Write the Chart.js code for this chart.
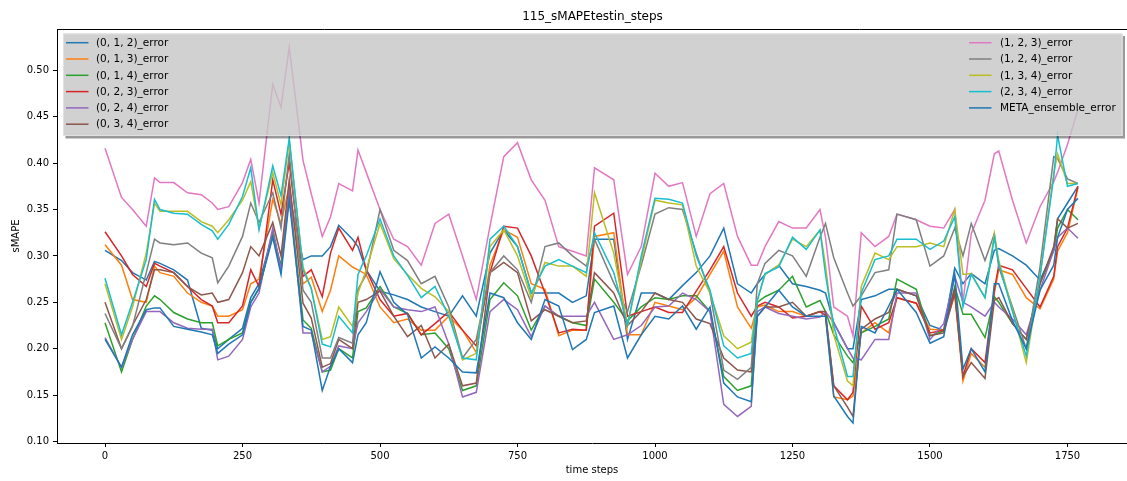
<!DOCTYPE html>
<html><head><meta charset="utf-8">
<script src="https://cdn.jsdelivr.net/npm/chart.js@4/dist/chart.umd.min.js"></script>
<style>html,body{margin:0;padding:0;background:#fff;overflow:hidden}</style>
</head><body>
<canvas id="c" width="1127" height="481" style="width:1127px;height:481px;display:block"></canvas>
<script>
const chartTitle = "115_sMAPEtestin_steps";
const xLabel = "time steps";
const yLabel = "sMAPE";
const xTicks = [0,250,500,750,1000,1250,1500,1750];
const yTicks = [0.10,0.15,0.20,0.25,0.30,0.35,0.40,0.45,0.50];
const seriesNames = ["(0, 1, 2)_error","(0, 1, 3)_error","(0, 1, 4)_error","(0, 2, 3)_error","(0, 2, 4)_error","(0, 3, 4)_error","(1, 2, 3)_error","(1, 2, 4)_error","(1, 3, 4)_error","(2, 3, 4)_error","META_ensemble_error"];
const seriesColors = ["#1f77b4","#ff7f0e","#2ca02c","#d62728","#9467bd","#8c564b","#e377c2","#7f7f7f","#bcbd22","#17becf","#1f77b4"];

const steps = [0,30,50,75,90,100,125,150,175,195,205,225,250,265,280,305,320,335,360,375,395,410,425,450,460,475,500,525,550,575,600,625,650,675,700,725,750,775,800,825,850,875,890,925,950,975,1000,1025,1050,1075,1100,1125,1150,1175,1186,1200,1225,1250,1275,1300,1310,1325,1350,1360,1375,1400,1425,1440,1475,1500,1525,1545,1560,1575,1600,1617,1625,1650,1675,1700,1725,1732,1750,1769];

const err_012 = [.306,.295,.282,.274,.294,.292,.285,.274,.222,.22, .20,.21,.222,.255,.27,.325,.285,.365,.296,.30, .30,.31,.333,.318,.31,.285,.262,.258,.253,.245, .24,.235,.257,.235,.303,.328,.31,.26,.26,.26, .25,.257,.318,.318,.21,.26,.26,.253,.268,.282, .30,.33,.27,.26,.27,.28,.29,.27,.267,.263, .26,.228,.20,.20,.253,.257,.264,.264,.257,.225, .22,.287,.27,.281,.27,.306,.308,.30,.29,.274, .306,.34,.357,.375];
const err_013 = [.312,.29,.253,.25,.289,.282,.278,.26,.25,.246, .235,.235,.242,.27,.275,.361,.335,.375,.27,.277, .24,.263,.30,.288,.285,.28,.245,.228,.232,.22, .22,.235,.22,.196,.29,.328,.32,.27,.264,.214, .22,.22,.321,.325,.215,.215,.25,.246,.242,.255, .28,.305,.245,.222,.245,.247,.24,.24,.235,.24, .236,.148,.145,.149,.217,.228,.217,.255,.249,.221, .22,.258,.165,.195,.18,.26,.285,.28,.255,.243, .275,.305,.325,.373];
const err_014 = [.228,.175,.21,.246,.257,.253,.239,.232,.228,.228, .203,.21,.217,.25,.265,.323,.29,.365,.231,.222, .175,.177,.20,.19,.24,.244,.267,.245,.238,.215, .217,.20,.155,.16,.253,.271,.257,.22,.246,.235, .228,.225,.275,.25,.23,.245,.255,.253,.257,.257, .24,.17,.155,.16,.25,.256,.263,.278,.245,.252, .24,.215,.192,.185,.217,.224,.232,.275,.264,.214, .219,.267,.237,.237,.212,.256,.25,.227,.21,.27, .306,.33,.35,.339];
const err_023 = [.326,.30,.28,.267,.292,.289,.282,.267,.253,.246, .228,.228,.246,.285,.267,.382,.345,.40,.278,.285, .256,.303,.33,.306,.32,.285,.253,.235,.238,.215, .227,.24,.22,.203,.282,.332,.33,.30,.26,.217, .221,.22,.332,.346,.235,.24,.245,.239,.239,.262, .285,.31,.26,.235,.246,.25,.245,.233,.235,.24, .236,.16,.145,.153,.246,.221,.228,.255,.249,.217, .22,.263,.17,.20,.185,.263,.29,.285,.265,.245, .278,.31,.33,.375];
const err_024 = [.212,.18,.21,.24,.24,.24,.228,.222,.221,.221, .188,.192,.21,.245,.26,.33,.285,.37,.217,.217, .175,.181,.203,.20,.228,.24,.264,.245,.242,.24, .245,.205,.148,.153,.24,.253,.242,.213,.246,.235, .235,.235,.25,.21,.215,.225,.245,.246,.26,.253, .24,.14,.127,.138,.24,.245,.238,.235,.232,.234, .24,.228,.20,.19,.188,.21,.21,.26,.26,.21, .227,.278,.25,.245,.235,.25,.245,.232,.215,.263, .306,.32,.33,.319];
const err_034 = [.250,.20,.225,.253,.285,.285,.282,.267,.258,.26, .25,.253,.282,.31,.30,.336,.30,.382,.249,.233, .18,.184,.21,.20,.25,.253,.262,.235,.213,.225, .19,.205,.16,.163,.282,.293,.282,.23,.242,.235, .228,.23,.282,.26,.225,.24,.26,.253,.25,.232, .227,.19,.177,.175,.235,.245,.245,.25,.235,.24, .24,.16,.137,.127,.221,.232,.239,.264,.257,.214, .217,.26,.17,.185,.168,.252,.255,.227,.21,.27, .31,.34,.33,.335];
const err_123 = [.416,.363,.35,.332,.384,.379,.379,.368,.366,.357, .35,.353,.379,.404,.357,.485,.46,.525,.403,.367, .321,.342,.378,.37,.414,.39,.35,.318,.31,.29, .335,.345,.30,.253,.332,.407,.422,.382,.36,.31, .305,.30,.395,.382,.28,.31,.389,.375,.379,.321, .367,.378,.321,.29,.29,.31,.337,.33,.33,.35, .32,.245,.235,.214,.325,.31,.321,.345,.339,.332, .33,.35,.25,.324,.36,.41,.413,.36,.314,.353, .38,.39,.42,.458];
const err_124 = [.238,.20,.224,.282,.318,.314,.312,.314,.303,.298, .271,.289,.321,.357,.336,.368,.33,.41,.263,.25, .19,.19,.212,.206,.264,.28,.35,.306,.295,.27, .278,.245,.19,.21,.282,.30,.285,.25,.31,.314, .30,.289,.318,.271,.24,.29,.345,.352,.35,.303, .26,.177,.167,.18,.27,.292,.306,.30,.278,.32, .335,.298,.26,.246,.257,.282,.285,.345,.339,.289, .30,.33,.30,.335,.295,.324,.288,.245,.20,.288, .407,.405,.383,.378];
const err_134 = [.270,.21,.245,.303,.357,.348,.348,.348,.337,.332, .325,.339,.36,.38,.33,.39,.355,.424,.288,.265, .21,.213,.245,.224,.26,.285,.335,.297,.28,.265, .256,.24,.188,.195,.31,.328,.30,.255,.293,.289, .289,.278,.368,.303,.225,.295,.36,.357,.355,.289, .26,.214,.20,.207,.252,.28,.29,.318,.31,.328, .29,.215,.165,.16,.267,.303,.296,.31,.31,.314, .31,.35,.28,.281,.255,.324,.295,.242,.185,.278, .389,.41,.378,.378];
const err_234 = [.276,.215,.25,.296,.361,.35,.346,.345,.334,.327, .318,.334,.364,.395,.328,.397,.365,.427,.285,.265, .205,.202,.235,.217,.28,.30,.34,.30,.279,.255, .267,.235,.19,.188,.318,.332,.31,.26,.289,.296, .289,.282,.325,.282,.225,.30,.362,.361,.357,.30, .263,.203,.19,.195,.252,.281,.288,.32,.307,.328, .28,.225,.17,.17,.26,.296,.30,.318,.318,.307, .316,.342,.245,.28,.255,.32,.292,.24,.192,.278, .385,.43,.375,.378];
const err_meta = [.210,.18,.215,.242,.244,.244,.224,.221,.218,.215, .195,.205,.215,.25,.265,.32,.28,.36,.224,.22, .155,.181,.20,.185,.215,.228,.283,.25,.237,.19, .202,.19,.175,.174,.26,.255,.228,.21,.253,.246, .199,.21,.239,.246,.19,.215,.235,.232,.246,.221, .245,.163,.148,.143,.235,.245,.263,.245,.235,.235, .235,.149,.127,.12,.224,.217,.246,.264,.239,.206, .213,.28,.178,.20,.175,.27,.27,.23,.20,.263, .29,.32,.35,.362];

const seriesValues = [err_012,err_013,err_014,err_023,err_024,err_034,err_123,err_124,err_134,err_234,err_meta];

const FONT = "'DejaVu Sans', sans-serif";
Chart.defaults.font.family = FONT;
Chart.defaults.font.size = 10;
Chart.defaults.color = '#000';

const datasets = seriesNames.map((name, i) => ({
  label: name,
  data: steps.map((s, k) => ({x: s, y: seriesValues[i][k]})),
  borderColor: seriesColors[i],
  backgroundColor: seriesColors[i],
  borderWidth: 1.5,
  pointRadius: 0,
  tension: 0,
  fill: false,
  order: -i
}));

const decorPlugin = {
  id: 'decor',
  afterDatasetsDraw(chart) {
    const ctx = chart.ctx;
    const a = chart.chartArea;
    ctx.save();
    ctx.strokeStyle = '#000';
    ctx.lineWidth = 1;
    ctx.beginPath();
    ctx.moveTo(a.left, a.top + 0.5);
    ctx.lineTo(a.right, a.top + 0.5);
    ctx.stroke();
    const x0 = 63, y0 = 33.5, w = 1059.5, h = 102.5;
    ctx.save();
    ctx.beginPath();
    ctx.rect(0, 0, chart.width, chart.height);
    ctx.rect(x0, y0, w, h);
    ctx.clip('evenodd');
    ctx.fillStyle = 'rgba(0,0,0,0.4)';
    ctx.fillRect(x0 + 2.5, y0 + 2.5, w, h);
    ctx.restore();
    ctx.fillStyle = 'rgba(198,198,198,0.8)';
    ctx.fillRect(x0, y0, w, h);
    ctx.strokeStyle = 'rgba(225,225,225,0.9)';
    ctx.lineWidth = 1;
    ctx.strokeRect(x0 + 0.5, y0 + 0.5, w - 1, h - 1);
    ctx.font = "10.5px " + FONT;
    ctx.textBaseline = 'middle';
    ctx.textAlign = 'left';
    seriesNames.forEach((name, i) => {
      const col = i < 6 ? 0 : 1;
      const row = i < 6 ? i : i - 6;
      const y = 42.7 + 16.3 * row;
      const lx = col === 0 ? 66 : 969;
      const tx = col === 0 ? 96 : 1000;
      ctx.strokeStyle = seriesColors[i];
      ctx.lineWidth = 1.5;
      ctx.beginPath();
      ctx.moveTo(lx, y);
      ctx.lineTo(lx + 22.5, y);
      ctx.stroke();
      ctx.fillStyle = '#000';
      ctx.fillText(name, tx, y + 0.5);
    });
    ctx.font = "12px " + FONT;
    ctx.textAlign = 'center';
    ctx.textBaseline = 'middle';
    ctx.fillStyle = '#000';
    ctx.fillText(chartTitle, (a.left + 1128) / 2, 17);
    ctx.restore();
  }
};

new Chart(document.getElementById('c'), {
  type: 'line',
  data: { datasets },
  plugins: [decorPlugin],
  options: {
    responsive: false,
    animation: false,
    devicePixelRatio: 1,
    layout: { padding: { top: 29, left: 0, right: 0, bottom: 0 } },
    plugins: { legend: { display: false }, tooltip: { enabled: false }, title: { display: false } },
    scales: {
      x: {
        type: 'linear',
        min: -87.3,
        max: 1858.2,
        afterBuildTicks: (s) => { s.ticks = xTicks.map(v => ({value: v})); },
        afterFit: (s) => { s.height = 38; },
        ticks: { padding: 3, maxRotation: 0, autoSkip: false, font: { size: 10 }, color: '#000', callback: (v) => String(v) },
        grid: { display: true, drawOnChartArea: false, drawTicks: true, tickLength: 4, color: '#000', lineWidth: 1 },
        border: { display: true, color: '#000', width: 1 },
        title: { display: true, text: xLabel, font: { size: 10 }, color: '#000', padding: { top: 0, bottom: 5 } }
      },
      y: {
        type: 'linear',
        min: 0.0984,
        max: 0.5445,
        afterBuildTicks: (s) => { s.ticks = yTicks.map(v => ({value: v})); },
        afterFit: (s) => { s.width = 57; },
        ticks: { padding: 4, autoSkip: false, font: { size: 10 }, color: '#000', callback: (v) => Number(v).toFixed(2) },
        grid: { display: true, drawOnChartArea: false, drawTicks: true, tickLength: 4, color: '#000', lineWidth: 1 },
        border: { display: true, color: '#000', width: 1 },
        title: { display: true, text: yLabel, font: { size: 10 }, color: '#000', padding: { top: 10, bottom: 0 } }
      }
    }
  }
});
</script>
</body></html>
